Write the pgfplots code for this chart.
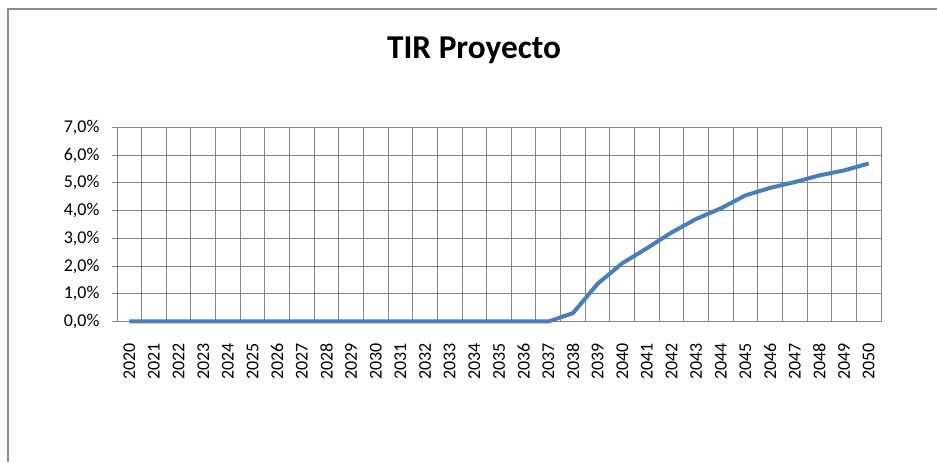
\documentclass[border=0pt]{standalone}
\usepackage{fontspec}
\setmainfont{Carlito}
\usepackage{pgfplots}
\pgfplotsset{compat=1.18}
\definecolor{serie}{RGB}{74,126,187}
\definecolor{gridc}{RGB}{134,134,134}
\definecolor{framec}{RGB}{140,140,140}
\begin{document}
\begin{tikzpicture}
\useasboundingbox (0,0) rectangle (702.75pt,346.5pt);
\draw[framec, line width=0.9pt] (6pt,0) -- (6pt,339.75pt) -- (702.75pt,339.75pt);
\node[anchor=base, font=\bfseries\fontsize{25}{30}\selectfont] at (355.5pt,303pt) {TIR Proyecto};
\begin{axis}[
  at={(87.75pt,105.4pt)}, anchor=south west,
  scale only axis, width=573pt, height=145.5pt,
  xmin=-0.5, xmax=30.5, ymin=0, ymax=7,
  xtick={0,...,30},
  xticklabels={2020,2021,2022,2023,2024,2025,2026,2027,2028,2029,2030,2031,2032,2033,2034,2035,2036,2037,2038,2039,2040,2041,2042,2043,2044,2045,2046,2047,2048,2049,2050},
  minor xtick={-0.5,0.5,...,30.5},
  ytick={0,1,...,7},
  yticklabels={{0,0\%},{1,0\%},{2,0\%},{3,0\%},{4,0\%},{5,0\%},{6,0\%},{7,0\%}},
  xmajorgrids=false, xminorgrids=true, ymajorgrids=true,
  grid style={gridc, line width=0.75pt},
  minor grid style={gridc, line width=0.75pt},
  axis line style={gridc, line width=0.75pt},
  tick align=outside, tick pos=left,
  major tick length=4pt, minor tick length=4.5pt,
  xtick style={draw=none},
  minor x tick style={gridc, line width=0.75pt},
  ytick style={gridc, line width=0.75pt},
  tick label style={font=\fontsize{13.5}{16}\selectfont, black},
  xticklabel style={rotate=90, anchor=east, inner sep=0pt, xshift=-12pt},
  yticklabel style={inner sep=0pt, xshift=-9pt},
  clip=false,
]
\addplot[serie, line width=3pt, line join=round] coordinates {
(0,0) (1,0) (2,0) (3,0) (4,0) (5,0) (6,0) (7,0) (8,0) (9,0) (10,0)
(11,0) (12,0) (13,0) (14,0) (15,0) (16,0) (17,0)
(18,0.30) (19,1.36) (20,2.10) (21,2.64) (22,3.21) (23,3.70) (24,4.08)
(25,4.55) (26,4.82) (27,5.03) (28,5.27) (29,5.45) (30,5.70)
};
\end{axis}
\end{tikzpicture}
\end{document}
